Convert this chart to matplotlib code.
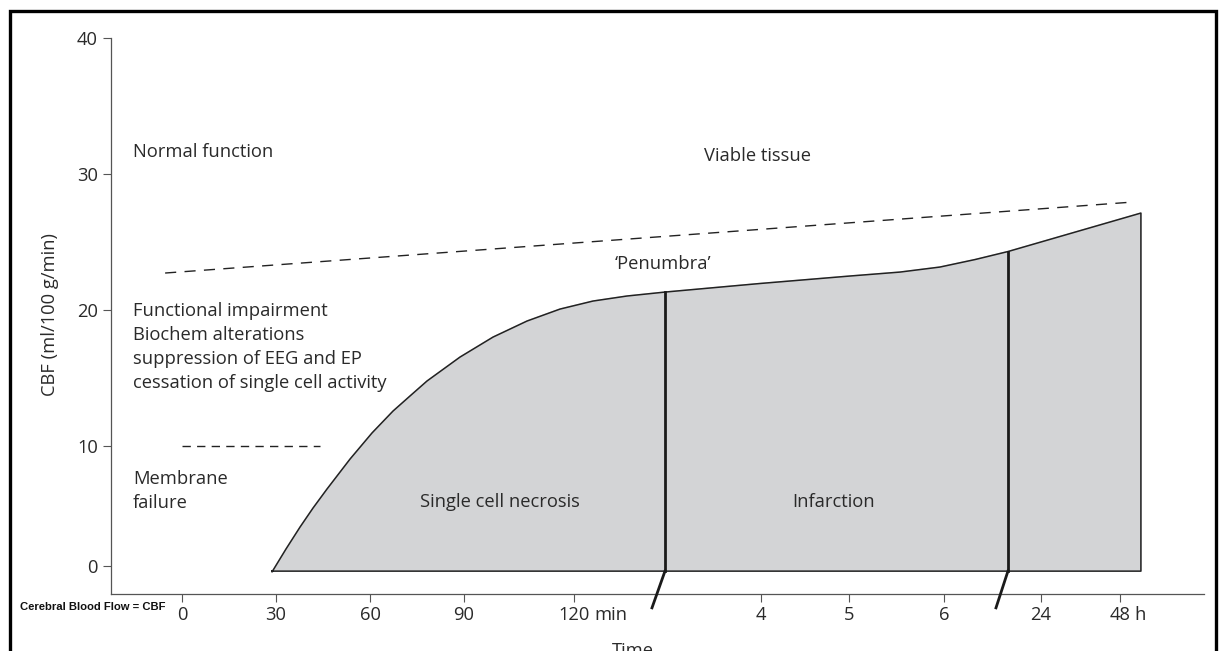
import numpy as np
import matplotlib
matplotlib.use('Agg')
import matplotlib.pyplot as plt
from matplotlib.patches import Rectangle

plt.rcParams['font.family'] = ['Open Sans', 'DejaVu Sans']

# schematic time axis (non-linear): tick positions and labels
x_ticks = [0, 30, 60, 90, 125, 184.8, 212.9, 243.2, 274.1, 299.4]
x_labels = ['0', '30', '60', '90', '120', '4', '5', '6', '24', '48']
x_units = {125: 'min', 299.4: 'h'}
y_ticks = [1.2, 10, 20, 30, 40]
y_labels = ['0', '10', '20', '30', '40']

# outline of the shaded CBF region (top edge)
curve_x = [28.72, 33.19, 37.66, 41.81, 46.28, 53.62, 60.64, 67.34, 72.77, 78.19, 88.72,
           99.26, 110.11, 120.64, 131.17, 142.02, 154.15, 184.47, 213.19, 229.15,
           241.91, 253.09, 263.62, 306.06]
curve_y = [0.74, 2.43, 4.04, 5.44, 6.84, 9.04, 10.96, 12.57, 13.68, 14.78, 16.54,
           18.01, 19.19, 20.07, 20.66, 21.03, 21.32, 21.95, 22.50, 22.79,
           23.16, 23.71, 24.30, 27.13]
base_y = 0.8

# separators (penumbra -> infarction) with their axis-break marks
sep_x = [154.15, 263.62]
sep_top = [21.32, 24.30]
brk_x = [150.0, 259.8]
brk_y = -1.9

# threshold dashed lines
viable_x = [-5.4, 303.5]
viable_y = [22.72, 27.94]
membr_x = [0, 44]
membr_y = [10, 10]

fig = plt.figure(figsize=(12.19, 6.51), dpi=100)
ax = fig.add_axes([0.0911, 0.0876, 0.8966, 0.8571])

fill_x = [curve_x[0]] + curve_x + [curve_x[-1], curve_x[0]]
fill_y = [base_y] + curve_y + [base_y, base_y]
ax.fill(fill_x, fill_y, color='#d3d4d6', zorder=1)
ax.plot(fill_x, fill_y, color='#222222', lw=1.1, zorder=2, solid_joinstyle='round')

for sx, st, bx in zip(sep_x, sep_top, brk_x):
    ax.plot([sx, sx], [base_y, st], color='#1a1a1a', lw=2.0, zorder=3)
    ax.plot([sx, bx], [base_y, brk_y], color='#1a1a1a', lw=2.0, zorder=3, clip_on=False)

ax.plot(viable_x, viable_y, color='#222222', lw=1.0, dashes=(8, 6))
ax.plot(membr_x, membr_y, color='#222222', lw=1.0, dashes=(6, 4.5))

fs = 13.2
tc = '#2a2a2a'
ax.text(-15.6, 31.6, 'Normal function', fontsize=fs, color=tc, va='center')
ax.text(183.8, 31.3, 'Viable tissue', fontsize=fs, color=tc, va='center', ha='center')
ax.text(153.5, 23.4, '\u2018Penumbra\u2019', fontsize=fs, color=tc, va='center', ha='center')
impair = ['Functional impairment', 'Biochem alterations',
          'suppression of EEG and EP', 'cessation of single cell activity']
for i, line in enumerate(impair):
    ax.text(-15.6, 19.9 - i * 1.75, line, fontsize=fs, color=tc, va='center')
ax.text(-15.6, 7.55, 'Membrane', fontsize=fs, color=tc, va='center')
ax.text(-15.6, 5.8, 'failure', fontsize=fs, color=tc, va='center')
ax.text(101.5, 5.9, 'Single cell necrosis', fontsize=fs, color=tc, va='center', ha='center')
ax.text(207.8, 5.9, 'Infarction', fontsize=fs, color=tc, va='center', ha='center')

ax.set_xlim(-22.66, 326.2)
ax.set_ylim(-0.88, 40.15)
ax.set_xticks(x_ticks)
ax.set_xticklabels(x_labels)
ax.set_yticks(y_ticks)
ax.set_yticklabels(y_labels)
ax.tick_params(axis='both', labelsize=fs, colors='#555555', labelcolor=tc,
               length=5.5, width=0.8, direction='out')
ax.tick_params(axis='x', pad=3)
ax.tick_params(axis='y', pad=4)
for s in ['top', 'right']:
    ax.spines[s].set_visible(False)
for s in ['left', 'bottom']:
    ax.spines[s].set_color('#555555')
    ax.spines[s].set_linewidth(0.9)
ax.spines['left'].set_bounds(-0.88, 40)

# unit suffixes hang to the right of the centred numbers
for xv, unit in x_units.items():
    off = 14.6 if unit == 'min' else 10.6
    ax.annotate(unit, xy=(xv, 0), xycoords=('data', 'axes fraction'),
                xytext=(off, -8.5), textcoords='offset points',
                ha='left', va='top', fontsize=fs, color=tc)

ax.set_ylabel('CBF (ml/100 g/min)', fontsize=fs, color=tc, labelpad=13)
fig.text(0.519, 0.0, 'Time', fontsize=fs, color=tc, ha='center', va='center')
fig.text(0.0164, 0.068, 'Cerebral Blood Flow = CBF', fontsize=8.1, fontweight='bold',
         color='#111111', va='center', family=['Liberation Sans', 'DejaVu Sans'])

fig.patches.append(Rectangle((0.0082, -0.1), 0.9893, 1.083, transform=fig.transFigure,
                             fill=False, edgecolor='black', lw=2.4, clip_on=False))

fig.savefig('out.png', dpi=100)
